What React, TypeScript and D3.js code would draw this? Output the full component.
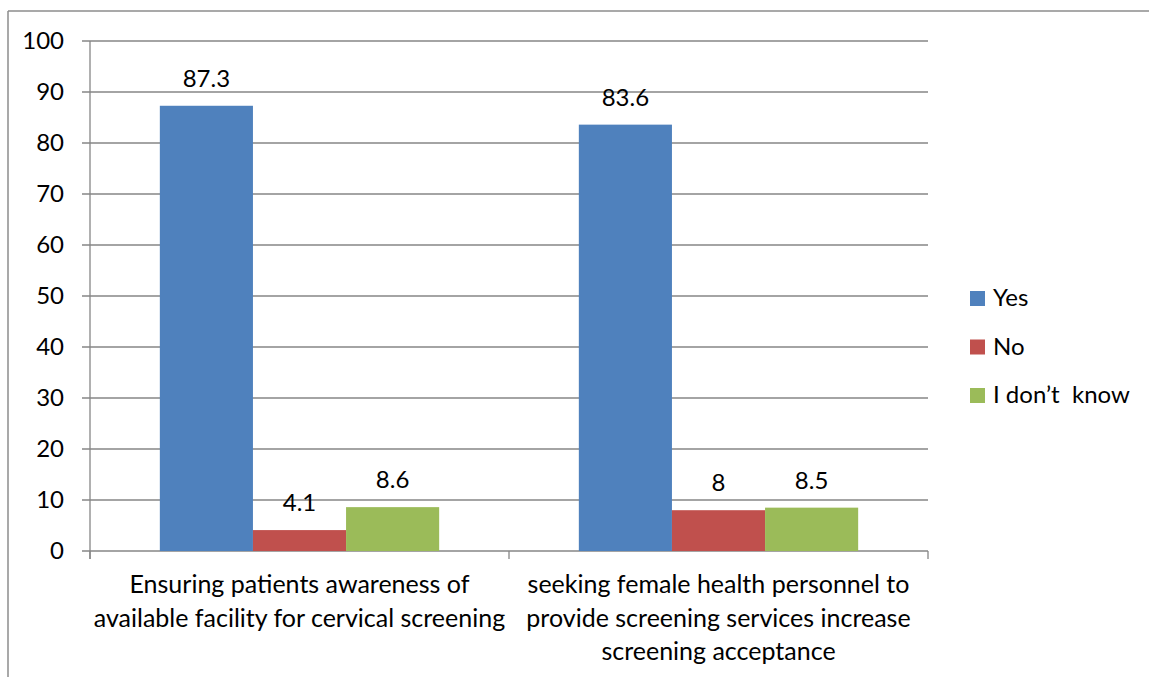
import React from "react";
import * as d3 from "d3";

const categories: string[][] = [
  ["Ensuring patients awareness of", "available facility for cervical screening"],
  ["seeking female health personnel to", "provide screening services increase", "screening acceptance"],
];
const seriesNames = ["Yes", "No", "I don\u2019t  know"];
const seriesColors = ["#4F81BD", "#C0504D", "#9BBB59"];
const yesValues = [87.3, 83.6];
const noValues = [4.1, 8];
const dontKnowValues = [8.6, 8.5];
const yTicks = [0, 10, 20, 30, 40, 50, 60, 70, 80, 90, 100];

const W = 1149;
const H = 677;
const FONT = "Lato, 'Open Sans', sans-serif";
const FS = 24;

export default function App() {
  const left = 90;
  const right = 928;
  const top = 41;
  const bottom = 551;

  const y = d3.scaleLinear().domain([0, 100]).range([bottom, top]);
  const x0 = d3
    .scaleBand<number>()
    .domain(categories.map((_, i) => i))
    .range([left, right])
    .paddingInner(0)
    .paddingOuter(0);
  const groupW = x0.bandwidth();
  // gap width 150% of a bar: 3 bars + 1.5 bar gap per category
  const barW = groupW / 4.5;
  const inner = d3
    .scaleBand<number>()
    .domain([0, 1, 2])
    .range([barW * 0.75, barW * 3.75])
    .padding(0);

  const series = [yesValues, noValues, dontKnowValues];
  const grid = "#868686";

  return (
    <svg
      width={W}
      height={H}
      style={{ position: "absolute", left: 0, top: 0, background: "#fff" }}
      fontFamily={FONT}
    >
      {/* chart frame */}
      <line x1={8} y1={11} x2={W} y2={11} stroke="#8c8c8c" strokeWidth={1.5} />
      <line x1={8} y1={11} x2={8} y2={H} stroke="#8c8c8c" strokeWidth={1.5} />

      {/* gridlines and y ticks */}
      {yTicks.map((t) => (
        <g key={t}>
          <line x1={left - 8} x2={right} y1={y(t)} y2={y(t)} stroke={grid} strokeWidth={1.3} />
          <text x={64} y={y(t) + 8} fontSize={FS} textAnchor="end" fill="#000">
            {t}
          </text>
        </g>
      ))}
      {/* y axis */}
      <line x1={left} x2={left} y1={top} y2={bottom + 8} stroke={grid} strokeWidth={1.3} />
      {/* x axis tick marks */}
      {[left, left + groupW, right].map((xx, i) => (
        <line key={i} x1={xx} x2={xx} y1={bottom} y2={bottom + 8} stroke={grid} strokeWidth={1.3} />
      ))}

      {/* bars */}
      {categories.map((_, ci) => (
        <g key={ci} transform={`translate(${x0(ci)},0)`}>
          {series.map((vals, si) => {
            const bx = inner(si)!;
            const v = vals[ci];
            return (
              <g key={si}>
                <rect
                  x={bx}
                  y={y(v)}
                  width={inner.bandwidth()}
                  height={bottom - y(v)}
                  fill={seriesColors[si]}
                />
                <text
                  x={bx + inner.bandwidth() / 2}
                  y={y(v) - 19}
                  fontSize={FS}
                  textAnchor="middle"
                  fill="#000"
                >
                  {v}
                </text>
              </g>
            );
          })}
        </g>
      ))}

      {/* category labels */}
      {categories.map((lines, ci) => (
        <text
          key={ci}
          x={x0(ci)! + groupW / 2}
          y={593}
          fontSize={FS + 1}
          textAnchor="middle"
          fill="#000"
        >
          {lines.map((ln, li) => (
            <tspan key={li} x={x0(ci)! + groupW / 2} dy={li === 0 ? 0 : 33.5}>
              {ln}
            </tspan>
          ))}
        </text>
      ))}

      {/* legend */}
      {seriesNames.map((name, i) => (
        <g key={name} transform={`translate(970,${291 + i * 48.5})`}>
          <rect x={0} y={0} width={15} height={15} fill={seriesColors[i]} />
          <text x={23} y={15} fontSize={FS} fill="#000" style={{ whiteSpace: "pre" }}>
            {name}
          </text>
        </g>
      ))}
    </svg>
  );
}
